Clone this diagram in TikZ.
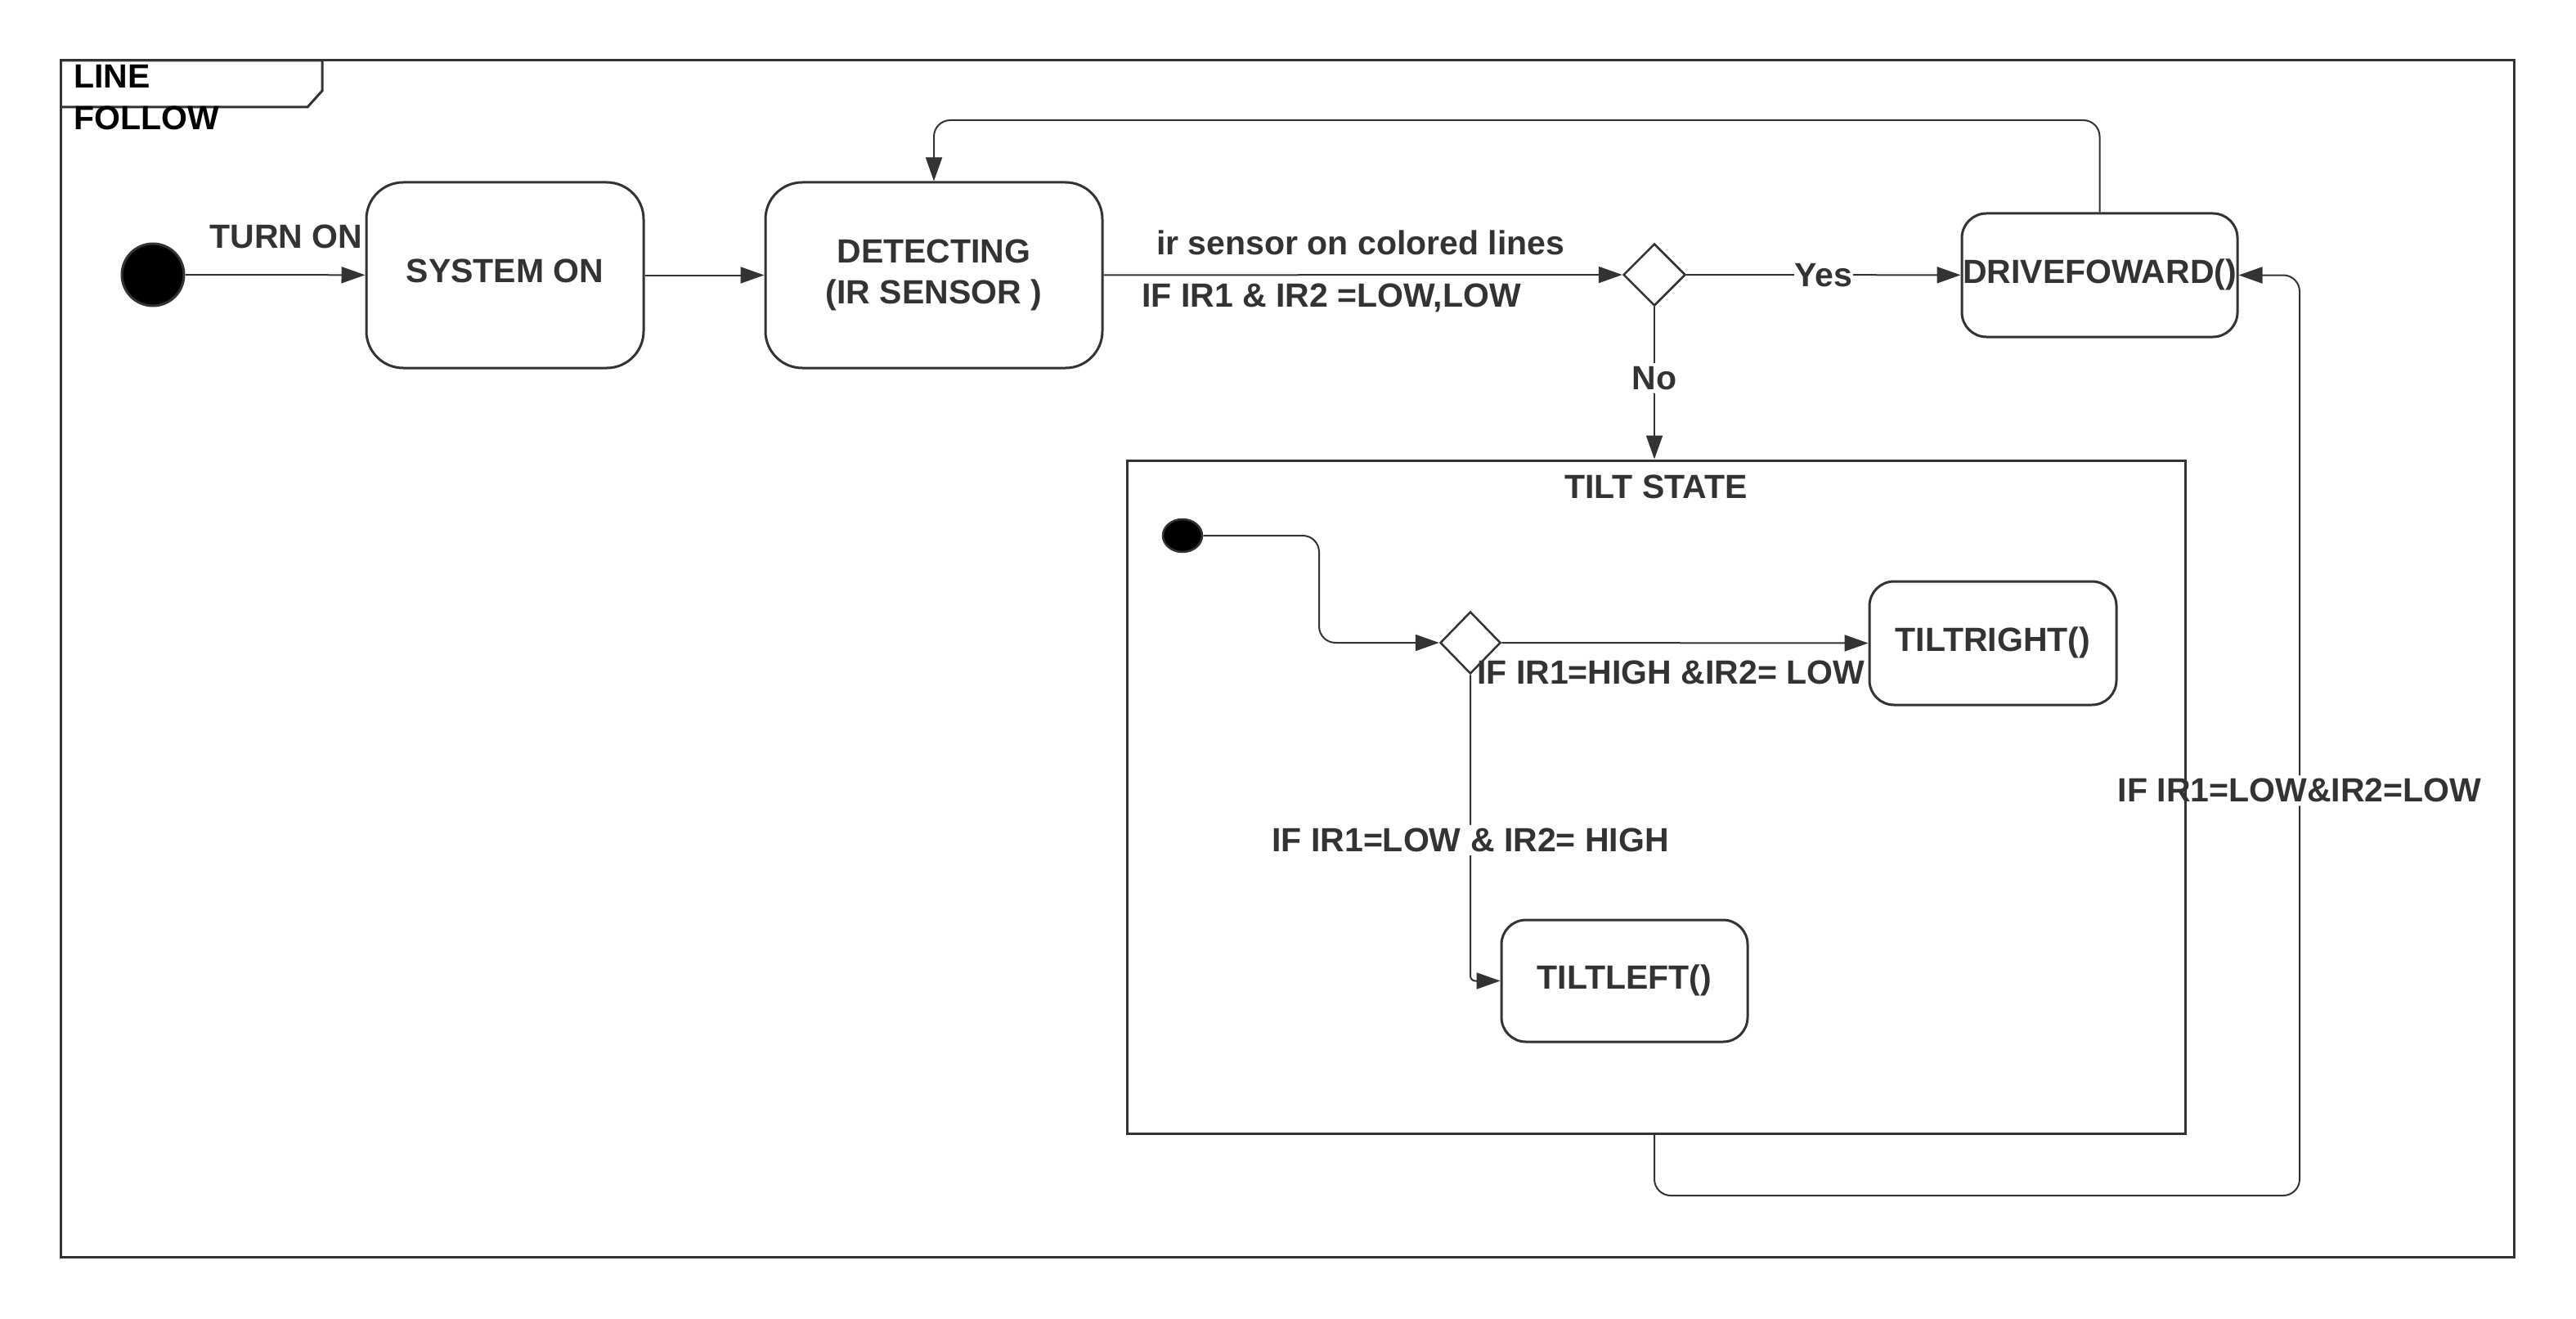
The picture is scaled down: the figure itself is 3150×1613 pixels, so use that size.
\documentclass[tikz,border=0pt]{standalone}
\usepackage{fontspec}
\setmainfont{Liberation Sans}
\usetikzlibrary{arrows.meta,shapes.geometric}
\definecolor{ink}{HTML}{333333}
\pgfdeclarelayer{bg}
\pgfdeclarelayer{bottom}
\pgfsetlayers{bottom,bg,main}
\begin{document}
\begin{tikzpicture}[x=1pt,y=-1pt,
  txt/.style={font=\fontsize{41}{50}\selectfont\bfseries, text=ink, inner sep=2pt},
  stbox/.style={draw=ink, line width=3pt, rounded corners=45pt, txt, align=center, inner sep=0pt},
  smallbox/.style={stbox, rounded corners=30pt},
  decis/.style={diamond, draw=ink, line width=2.5pt, minimum width=76pt, minimum height=76pt, inner sep=0pt},
  conn/.style={draw=ink, line width=2pt, -{Triangle[length=29pt,width=20pt]}},
  lab/.style={txt, fill=white, inner sep=4pt},
  freelab/.style={txt, inner sep=0pt}
]
\useasboundingbox (0,0) rectangle (3150,1613);
\begin{pgfonlayer}{bottom}
\fill[white] (0,0) rectangle (3150,1613);
\end{pgfonlayer}

% outer frame and tab
\draw[draw=ink, line width=3pt] (74,74) rectangle (3074,1537);
\draw[draw=ink, line width=3pt] (74,74) -- (394,74) -- (394,111) -- (376,131) -- (74,131);
\node[freelab, anchor=west, text=black] (t1) at (90,93) {LINE};
\node[freelab, anchor=west, text=black] (t2) at (90,144) {FOLLOW};

% top-level nodes
\node[circle, fill=black, draw=ink, line width=3pt, minimum size=76pt, inner sep=0pt] (init) at (187,336) {};
\node[stbox, minimum width=339pt, minimum height=227pt, text depth=10pt] (sys) at (617.5,336.5) {SYSTEM ON};
\node[stbox, minimum width=412pt, minimum height=227pt] (det) at (1142,336.5) {DETECTING\\(IR SENSOR )};
\node[decis] (dec1) at (2023,336) {};
\node[smallbox, minimum width=337pt, minimum height=151pt, text depth=9pt] (drive) at (2567.5,336.5) {DRIVEFOWARD()};

% composite tilt state
\node[draw=ink, line width=3pt, minimum width=1294pt, minimum height=823pt, inner sep=0pt] (tilt) at (2025,974.5) {};
\node[freelab] (tiltt) at (2025,595) {TILT STATE};
\node[ellipse, fill=black, draw=ink, line width=2.5pt, minimum width=48pt, minimum height=40pt, inner sep=0pt] (init2) at (1446,655) {};
\node[decis, minimum width=74pt] (dec2) at (1798,786) {};
\node[smallbox, minimum width=302pt, minimum height=151pt, text depth=10pt] (tr) at (2437,786.5) {TILTRIGHT()};
\node[smallbox, minimum width=301pt, minimum height=149pt, text depth=10pt] (tl) at (1986.5,1199.5) {TILTLEFT()};

% connectors
\draw[conn] (init) -- (sys);
\node[freelab] (lturn) at (350,289) {TURN ON};
\draw[conn] (sys) -- (det);
\draw[conn] (det) -- (dec1);
\node[freelab, anchor=west] (l1) at (1414,297) {ir sensor on colored lines};
\node[freelab, anchor=west] (l2) at (1396,364) {IF IR1 \& IR2 =LOW,LOW};
\draw[conn] (dec1) -- node[lab, pos=0.5, inner xsep=1pt] (lyes) {Yes} (drive);
\coordinate (looptop) at (0,147);
\draw[conn, rounded corners=20pt] (drive.north) -- (drive.north |- looptop) -| (det.north);
\draw[conn] (dec1.south) -- node[lab, pos=0.47] (lno) {No} (tilt.north -| dec1);

\coordinate (bend1) at (1613,0);
\draw[conn, rounded corners=20pt] (init2.east) -| (bend1 |- dec2) -- (dec2.west);
\draw[conn] (dec2.east) -- (tr.west);
\node[freelab, anchor=west] (l3) at (1806,822) {IF IR1=HIGH \&IR2= LOW};
\draw[conn, rounded corners=6pt] (dec2.south) |- node[lab, pos=0.27] (l4) {IF IR1=LOW \& IR2= HIGH} (tl.west);

\coordinate (lowy) at (0,1462);
\coordinate (rightx) at (2812,0);
\begin{pgfonlayer}{bg}
\draw[conn, rounded corners=20pt] (tilt.south -| dec1) -- (dec1 |- lowy) -- (rightx |- lowy) -- node[lab, pos=0.44] (l5) {IF IR1=LOW\&IR2=LOW} (rightx |- drive) -- (drive.east);
\end{pgfonlayer}
\end{tikzpicture}
\end{document}
